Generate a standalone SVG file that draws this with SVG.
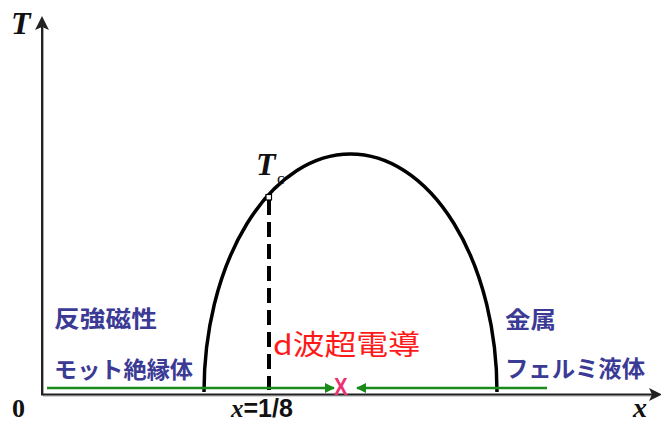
<svg xmlns="http://www.w3.org/2000/svg" width="661" height="423" viewBox="0 0 661 423">
<defs>
<style>
.ax{stroke:#222;stroke-width:2;fill:none}
.axs{stroke:#aaa;stroke-width:1;fill:none}
.serif{font-family:"Liberation Serif","Times New Roman",serif;font-weight:bold;font-style:italic;fill:#111}
.jp{font-family:"Noto Sans CJK JP","Noto Sans",sans-serif;font-weight:bold;font-size:23px;fill:#3b3b96}
.green{stroke:#1a8a1a;stroke-width:2.5;fill:none}
</style>
<marker id="ga" viewBox="0 0 10 10" refX="9" refY="5" markerWidth="4" markerHeight="4" orient="auto" markerUnits="strokeWidth">
<path d="M0,0 L10,5 L0,10 Z" fill="#1a8a1a"/>
</marker>
</defs>
<rect width="661" height="423" fill="#fff"/>
<g id="axes">
<line class="axs" x1="43.5" y1="28" x2="43.5" y2="396"/>
<line class="axs" x1="43" y1="396" x2="652" y2="396"/>
<line class="ax" x1="42" y1="26" x2="42" y2="395"/>
<line class="ax" x1="41" y1="394.5" x2="652" y2="394.5"/>
<path d="M42,16 L49,30 L42,27 L35,30 Z" fill="#222"/>
<path d="M662,394.5 L649,388 L652,394.5 L649,401 Z" fill="#222"/>
</g>
<g id="axis-labels">
<text class="serif" x="11" y="34" font-size="32">T</text>
<text class="serif" x="633" y="417" font-size="28">x</text>
<text x="12" y="417" font-family="Liberation Serif,serif" font-weight="bold" font-size="26" fill="#111">0</text>
<text x="231" y="417" font-size="25" font-weight="bold" fill="#111"><tspan class="serif" font-size="25">x</tspan><tspan font-family="Liberation Sans,Arial,sans-serif">=1/8</tspan></text>
</g>
<g id="dome">
<path d="M204,392 A146.5,238 0 0 1 497,392" fill="none" stroke="#000" stroke-width="3.5"/>
</g>
<g id="tc">
<line x1="269" y1="200" x2="269" y2="390" stroke="#000" stroke-width="4" stroke-dasharray="15 7"/>
<rect x="266" y="194.5" width="5.5" height="5.5" fill="#fff" stroke="#000" stroke-width="1.2"/>
<text class="serif" x="256" y="175" font-size="32">T</text>
<text x="277" y="184" font-family="Liberation Serif,serif" font-size="17" fill="#111">c</text>
</g>
<g id="connectors">
<line class="green" x1="47" y1="388" x2="334" y2="388" marker-end="url(#ga)"/>
<line class="green" x1="547" y1="388" x2="357" y2="388" marker-end="url(#ga)"/>
</g>
<g id="left-labels">
<text class="jp" x="54" y="327" textLength="103" lengthAdjust="spacingAndGlyphs">反強磁性</text>
<text class="jp" x="54" y="378" textLength="139" lengthAdjust="spacingAndGlyphs">モット絶縁体</text>
</g>
<g id="right-labels">
<text class="jp" x="505" y="328" textLength="51" lengthAdjust="spacingAndGlyphs">金属</text>
<text class="jp" x="505" y="377" textLength="140" lengthAdjust="spacingAndGlyphs">フェルミ液体</text>
</g>
<g id="sc-label">
<text x="273" y="355" font-family="Noto Sans CJK JP,Noto Sans,sans-serif" font-size="28" fill="#ff1a1a" textLength="147" lengthAdjust="spacingAndGlyphs">d波超電導</text>
</g>
<g id="optimum">
<text x="334" y="395" font-family="Liberation Sans,Arial,sans-serif" font-weight="bold" font-size="24" fill="#ee2f72" transform="translate(334 395) scale(0.85 1) translate(-334 -395)">X</text>
</g>
</svg>
